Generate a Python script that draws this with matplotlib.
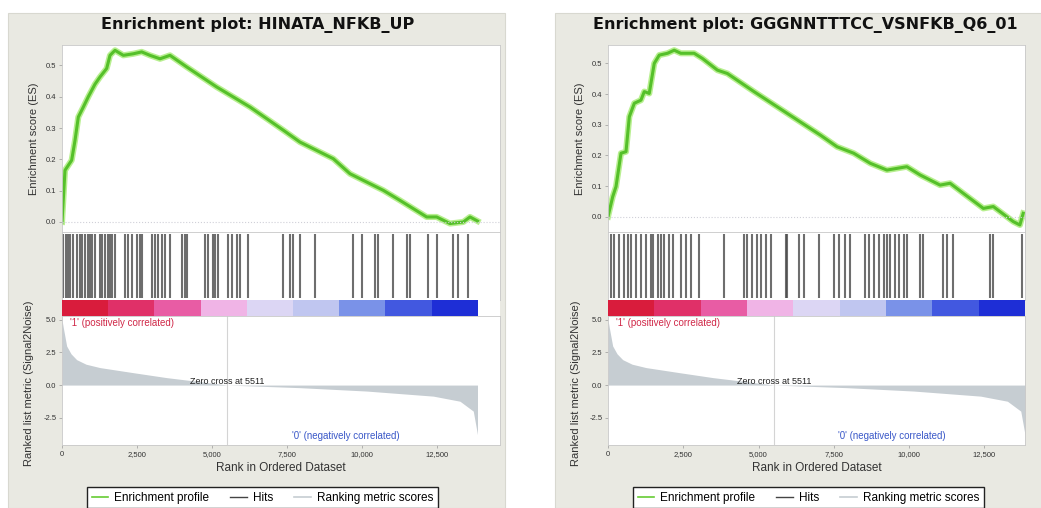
import matplotlib
matplotlib.use('Agg')
import matplotlib.pyplot as plt
from matplotlib.patches import Rectangle
from matplotlib.lines import Line2D
from matplotlib.colors import ListedColormap
import numpy as np

# ---- data ----
n_genes = 13850
zero_cross = 5511

metric_rank = [0, 44, 155, 300, 488, 800, 1266, 2377, 3488, 4600, 5511, 7932, 10154, 12376, 13265, 13709, 13850]
metric_val = [5.0, 4.4, 3.0, 2.4, 1.95, 1.6, 1.34, 0.95, 0.57, 0.26, 0.0, -0.2, -0.46, -0.85, -1.24, -2.0, -3.8]

es_rank_a = [0, 100, 322, 433, 544, 711, 878, 1100, 1267, 1489, 1600, 1767, 2044, 2378, 2656, 2933,
             3267, 3600, 4156, 5155, 6266, 7377, 7933, 9043, 9600, 10710, 11265, 12155, 12488, 12932,
             13377, 13600, 13850]
es_val_a = [0, 0.165, 0.197, 0.26, 0.335, 0.367, 0.40, 0.44, 0.463, 0.49, 0.532, 0.548, 0.532, 0.537,
            0.543, 0.532, 0.521, 0.532, 0.495, 0.431, 0.367, 0.293, 0.255, 0.202, 0.154, 0.101, 0.069,
            0.016, 0.016, -0.005, 0.0, 0.016, 0.003]
hits_a = [33, 133, 200, 267, 367, 500, 600, 667, 767, 867, 933, 1000, 1100, 1267, 1333, 1433, 1533,
          1600, 1667, 1767, 2100, 2200, 2333, 2500, 2600, 2667, 3000, 3100, 3200, 3333, 3433, 3600,
          4000, 4100, 4167, 4767, 4867, 5033, 5100, 5200, 5533, 5667, 5833, 5933, 6200, 7367, 7600,
          7700, 7933, 8433, 9700, 10000, 10433, 10533, 11033, 11500, 11600, 12200, 12500, 13033,
          13200, 13533]

es_rank_b = [0, 156, 266, 432, 598, 708, 874, 1094, 1205, 1370, 1536, 1702, 1978, 2198, 2419, 2861,
             3137, 3634, 3965, 4848, 5952, 7056, 7608, 8160, 8712, 9264, 9926, 10368, 11030, 11362,
             11803, 12466, 12797, 13459, 13680, 13790]
es_val_b = [0, 0.065, 0.098, 0.207, 0.212, 0.326, 0.37, 0.38, 0.408, 0.402, 0.5, 0.527, 0.533, 0.543,
            0.533, 0.533, 0.516, 0.478, 0.467, 0.408, 0.337, 0.266, 0.228, 0.207, 0.174, 0.152, 0.163,
            0.136, 0.103, 0.109, 0.076, 0.027, 0.033, -0.016, -0.027, 0.011]
hits_b = [101, 211, 377, 542, 653, 763, 929, 1094, 1260, 1426, 1481, 1646, 1757, 1867, 2033, 2143,
          2419, 2585, 2750, 3026, 3854, 4517, 4627, 4793, 4958, 5069, 5234, 5400, 5897, 5952, 6338,
          6504, 7001, 7498, 7663, 7884, 8050, 8546, 8657, 8822, 8988, 9154, 9264, 9374, 9540, 9650,
          9816, 9926, 10368, 10478, 11140, 11251, 11472, 12686, 12797, 13735]

titles = ['Enrichment plot: HINATA_NFKB_UP', 'Enrichment plot: GGGNNTTTCC_VSNFKB_Q6_01']
x_ticks = [0, 2500, 5000, 7500, 10000, 12500]
x_ticklabels = ['0', '2,500', '5,000', '7,500', '10,000', '12,500']
es_ticks = [0.0, 0.1, 0.2, 0.3, 0.4, 0.5]
metric_ticks = [5.0, 2.5, 0.0, -2.5]
legend_labels = ['Enrichment profile', 'Hits', 'Ranking metric scores']

bar_colors = ['#d91c3c', '#e03068', '#e85ca4', '#f0b4e6', '#dcd6f4', '#c0c6f0', '#7a92e8', '#4258e0', '#1e2ed6']

W, H = 1041, 508
plt.rcParams['font.family'] = ['Liberation Sans', 'DejaVu Sans']
fig = plt.figure(figsize=(W / 100, H / 100), dpi=100)


def box(x0, y0, x1, y1):
    return [x0 / W, 1 - y1 / H, (x1 - x0) / W, (y1 - y0) / H]


def style(ax):
    for s in ax.spines.values():
        s.set_color('#c8c8c8')
        s.set_linewidth(0.6)
    ax.tick_params(length=2, width=0.5, color='#999999', labelsize=5.5, labelcolor='#333333', pad=2)


def panel(p0, ax0, ax1, title, es_rank, es_val, hits, es_lim, xmax, neg_x):
    # grey panel background
    fig.patches.append(Rectangle((p0 / W, 0), 497 / W, 1 - 13 / H, transform=fig.transFigure,
                                 facecolor='#e9e9e2', edgecolor='#d8d8d0', lw=0.8, zorder=-5))
    fig.text((p0 + 250) / W, 1 - 25 / H, title, ha='center', va='center', fontsize=11.5,
             fontweight='bold', color='#111111', family='DejaVu Sans')

    # running enrichment score
    ax = fig.add_axes(box(ax0, 45, ax1, 232))
    ax.plot(es_rank, es_val, color='#b8ef90', lw=4.4, solid_joinstyle='round')
    ax.plot(es_rank, es_val, color='#55c02a', lw=2.2, solid_joinstyle='round')
    ax.axhline(0, color='#d0d0d8', lw=0.8, ls=':')
    ax.set_xlim(0, xmax)
    ax.set_ylim(*es_lim)
    ax.set_xticks([])
    ax.set_yticks(es_ticks)
    ax.set_yticklabels([f'{t:.1f}' for t in es_ticks])
    ax.set_ylabel('Enrichment score (ES)', fontsize=8, color='#333333', labelpad=5)
    style(ax)

    # hits
    ah = fig.add_axes(box(ax0, 232, ax1, 300))
    ah.vlines(hits, 0.03, 0.97, color='#4a4a4a', lw=1.5, alpha=0.8)
    ah.set_xlim(0, xmax)
    ah.set_ylim(0, 1)
    ah.set_xticks([])
    ah.set_yticks([])
    style(ah)

    # colour bar of the ranked list
    ac = fig.add_axes(box(ax0, 300, ax1, 316))
    ac.imshow(np.arange(len(bar_colors)).reshape(1, -1), cmap=ListedColormap(bar_colors),
              aspect='auto', extent=[0, n_genes, 0, 1], interpolation='nearest')
    ac.set_xlim(0, xmax)
    ac.set_ylim(0, 1)
    ac.set_xticks([])
    ac.set_yticks([])
    for s in ac.spines.values():
        s.set_visible(False)

    # ranked list metric
    ar = fig.add_axes(box(ax0, 316, ax1, 445))
    ar.fill_between(metric_rank, metric_val, 0, color='#c6cdd2', lw=0)
    ar.axvline(zero_cross, color='#d4d4d4', lw=0.8)
    ar.text(zero_cross, 0.25, f'Zero cross at {zero_cross}', ha='center', va='center', fontsize=6.5,
            color='#222222')
    ar.text(0.018, 0.985, "'1' (positively correlated)", transform=ar.transAxes, ha='left', va='top',
            fontsize=7, color='#d02848')
    ar.text(neg_x, 0.07, "'0' (negatively correlated)", transform=ar.transAxes, ha='right',
            va='center', fontsize=7, color='#3a58c8')
    ar.set_xlim(0, xmax)
    ar.set_ylim(-4.6, 5.3)
    ar.set_yticks(metric_ticks)
    ar.set_yticklabels([f'{t:.1f}' for t in metric_ticks])
    ar.set_xticks(x_ticks)
    ar.set_xticklabels(x_ticklabels)
    ar.set_xlabel('Rank in Ordered Dataset', fontsize=8.5, color='#333333', labelpad=3)
    ar.set_ylabel('Ranked list metric (Signal2Noise)', fontsize=8, color='#333333', labelpad=4)
    ar.yaxis.set_label_coords(-0.065, 0.48)
    style(ar)

    handles = [Line2D([], [], color='#66cc33', lw=1.2),
               Line2D([], [], color='#444444', lw=1.0),
               Line2D([], [], color='#c6cdd2', lw=1.2)]
    fig.legend(handles, legend_labels, ncol=3, loc='upper left',
               bbox_to_anchor=((ax0 + 25) / W, 1 - 487 / H), fontsize=8.5, frameon=True,
               fancybox=False, edgecolor='#222222', facecolor='white', framealpha=1,
               handlelength=1.4, handletextpad=0.5, columnspacing=1.8, borderpad=0.4,
               borderaxespad=0)


panel(8, 62, 500, titles[0], es_rank_a, es_val_a, hits_a, (-0.032, 0.565), 14600, 0.77)
panel(555, 608, 1025, titles[1], es_rank_b, es_val_b, hits_b, (-0.05, 0.56), n_genes, 0.81)

fig.savefig('out.png', dpi=100, facecolor='white')
